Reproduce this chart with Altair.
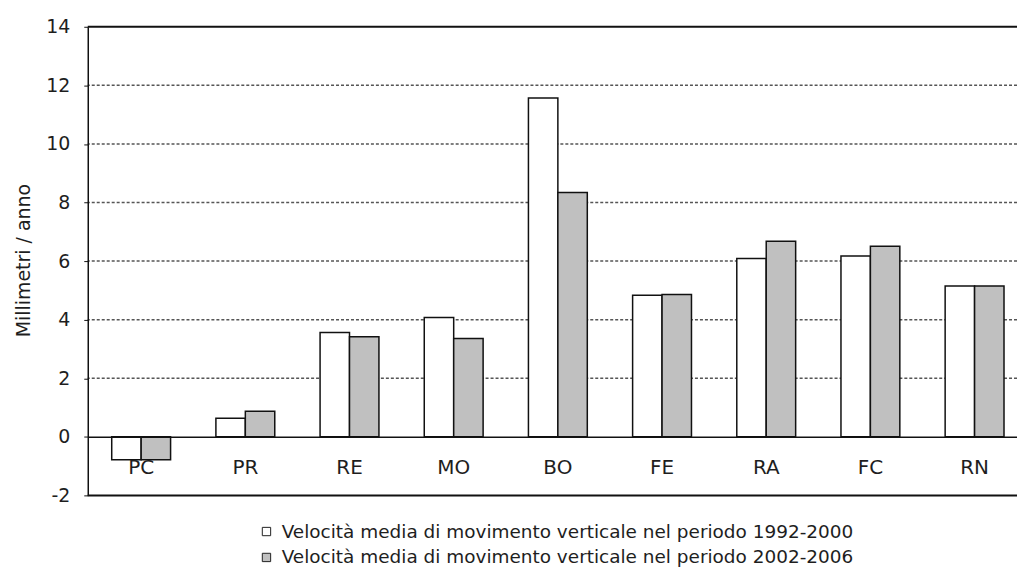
import altair as alt
import pandas as pd

categories = ["PC", "PR", "RE", "MO", "BO", "FE", "RA", "FC", "RN"]
v_1992_2000 = [-0.78, 0.63, 3.56, 4.07, 11.57, 4.83, 6.09, 6.17, 5.15]
v_2002_2006 = [-0.78, 0.87, 3.42, 3.36, 8.34, 4.86, 6.68, 6.51, 5.15]
series = [
    "Velocità media di movimento verticale nel periodo 1992-2000",
    "Velocità media di movimento verticale nel periodo 2002-2006",
]
y_ticks = [-2, 0, 2, 4, 6, 8, 10, 12, 14]
dashed_lines = [2, 4, 6, 8, 10, 12]
solid_lines = [14, -2]

rows = []
for c, a, b in zip(categories, v_1992_2000, v_2002_2006):
    rows.append({"cat": c, "serie": series[0], "val": a})
    rows.append({"cat": c, "serie": series[1], "val": b})
df = pd.DataFrame(rows)

FONT = "DejaVu Sans"
TXT = "#1e1e1e"
yscale = alt.Scale(domain=[-2, 14], nice=False, zero=False)

grid = alt.Chart(pd.DataFrame({"g": dashed_lines})).mark_rule(
    color="#555555", strokeDash=[3, 2], strokeWidth=1.5
).encode(y=alt.Y("g:Q", scale=yscale))

border = alt.Chart(pd.DataFrame({"g": solid_lines})).mark_rule(
    color="#111111", strokeWidth=2
).encode(y=alt.Y("g:Q", scale=yscale))

bars = alt.Chart(df).mark_bar(stroke="#111111", strokeWidth=1.5, opacity=1).encode(
    x=alt.X(
        "cat:N",
        sort=categories,
        scale=alt.Scale(paddingInner=0.435, paddingOuter=0.23, range=[0, 943]),
        axis=alt.Axis(
            title=None,
            orient="bottom",
            offset=-58.75,
            labelAngle=0,
            labelFont=FONT,
            labelFontSize=20,
            labelColor=TXT,
            labelPadding=21,
            ticks=False,
            domainColor="#111111",
            domainWidth=1.5,
            grid=False,
            zindex=2,
        ),
    ),
    xOffset=alt.XOffset("serie:N", sort=series),
    y=alt.Y(
        "val:Q",
        scale=yscale,
        axis=alt.Axis(
            title="Millimetri / anno",
            values=y_ticks,
            labelExpr="'' + datum.value",
            grid=False,
            labelFont=FONT,
            labelFontSize=19,
            labelColor=TXT,
            labelPadding=14,
            tickSize=4,
            tickColor="#111111",
            domainColor="#111111",
            domainWidth=1.5,
            titleFont=FONT,
            titleFontSize=19,
            titleFontWeight="normal",
            titleColor=TXT,
            titleX=-64,
            titleY=234,
            titleAlign="center",
            titleBaseline="middle",
            zindex=2,
        ),
    ),
    color=alt.Color(
        "serie:N",
        sort=series,
        scale=alt.Scale(domain=series, range=["#ffffff", "#c0c0c0"]),
        legend=alt.Legend(
            title=None,
            orient="none",
            legendX=170,
            legendY=497,
            symbolType="square",
            symbolSize=70,
            symbolStrokeColor="#222222",
            symbolStrokeWidth=1,
            labelFont=FONT,
            labelFontSize=18.5,
            labelColor=TXT,
            labelLimit=700,
            rowPadding=7,
            labelOffset=6,
        ),
    ),
)

chart = (
    alt.layer(grid, bars, border)
    .properties(
        width=932,
        height=470,
        autosize=alt.AutoSizeParams(type="none"),
        padding={"left": 80, "top": 18, "right": 0, "bottom": 75},
        background="white",
    )
    .configure_view(stroke=None)
)

chart.save("out.html", embed_options={"renderer": "svg", "actions": False})
